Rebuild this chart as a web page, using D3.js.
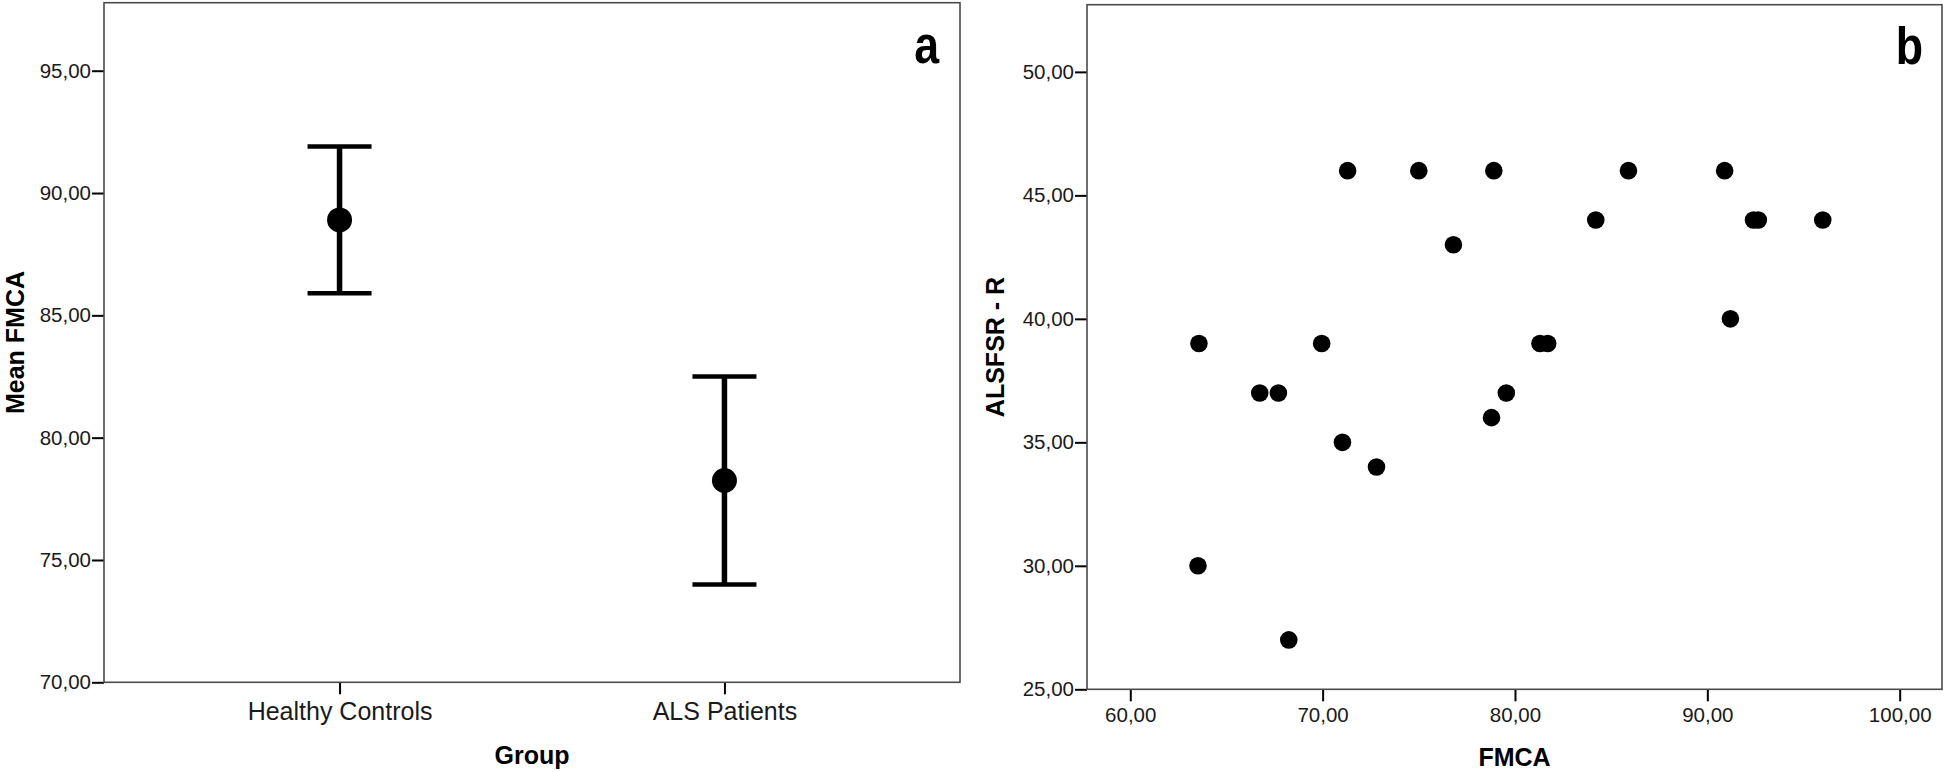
<!DOCTYPE html>
<html>
<head>
<meta charset="utf-8">
<script src="https://cdn.jsdelivr.net/npm/d3@7"></script>
<style>
  html, body { margin: 0; padding: 0; background: #fff; }
  svg { display: block; font-family: "Liberation Sans", Arial, sans-serif; }
</style>
</head>
<body>
<svg id="chart" width="1946" height="772"></svg>
<script>
// ---- Panel a data: mean FMCA with error bars ----
const groups = ["Healthy Controls", "ALS Patients"];
const groupMeans = [88.9, 78.25];
const groupLower = [85.9, 74.0];
const groupUpper = [91.9, 82.5];
const ticksA = [70, 75, 80, 85, 90, 95];

// ---- Panel b data: FMCA vs ALSFRS-R ----
const fmca = [71.3, 75.0, 78.9, 85.9, 90.9,
              84.2, 92.4, 92.65, 96.0,
              76.8, 91.2,
              63.57, 69.95, 81.3, 81.7,
              66.73, 67.7, 79.55,
              78.78, 71.03, 72.8, 63.52, 68.24];
const alsfrs = [46, 46, 46, 46, 46,
                44, 44, 44, 44,
                43, 40,
                39, 39, 39, 39,
                37, 37, 37,
                36, 35, 34, 30, 27];
const ticksBx = [60, 70, 80, 90, 100];
const ticksBy = [25, 30, 35, 40, 45, 50];

const fmt = d => d3.format(".2f")(d).replace(".", ",");
const svg = d3.select("#chart");

function styleAxis(g, fontSize) {
  g.select(".domain").remove();
  g.selectAll(".tick line").attr("stroke", "#000").attr("stroke-width", 2);
  g.selectAll(".tick text").attr("fill", "#1a1a1a").style("font-size", fontSize + "px")
    .style("font-family", '"Liberation Sans", Arial, sans-serif');
}

// ================= Panel a =================
const A = { left: 104, right: 960, top: 2.7, bottom: 682.3 };
const xA = d3.scalePoint().domain(groups).range([A.left, A.right]).padding(0.612);
const yA = d3.scaleLinear().domain([70, 97.78]).range([A.bottom, A.top]);

const gA = svg.append("g");
gA.append("g").attr("transform", `translate(${A.left},0)`)
  .call(d3.axisLeft(yA).tickValues(ticksA).tickFormat(fmt).tickSize(12).tickPadding(1))
  .call(g => styleAxis(g, 20.5));
gA.append("g").attr("transform", `translate(0,${A.bottom})`)
  .call(d3.axisBottom(xA).tickSize(12).tickPadding(8))
  .call(g => styleAxis(g, 25));

gA.append("rect").attr("x", A.left).attr("y", A.top)
  .attr("width", A.right - A.left).attr("height", A.bottom - A.top)
  .attr("fill", "none").attr("stroke", "#4a4a4a").attr("stroke-width", 1.6);

const capW = 32;
groups.forEach((gname, i) => {
  const cx = xA(gname);
  gA.append("line").attr("x1", cx).attr("x2", cx)
    .attr("y1", yA(groupUpper[i])).attr("y2", yA(groupLower[i]))
    .attr("stroke", "#000").attr("stroke-width", 5.5);
  [groupUpper[i], groupLower[i]].forEach(v => {
    gA.append("line").attr("x1", cx - capW).attr("x2", cx + capW)
      .attr("y1", yA(v)).attr("y2", yA(v))
      .attr("stroke", "#000").attr("stroke-width", 4.5);
  });
  gA.append("circle").attr("cx", cx).attr("cy", yA(groupMeans[i])).attr("r", 12.5).attr("fill", "#000");
});

gA.append("text").attr("x", (A.left + A.right) / 2).attr("y", 764)
  .attr("text-anchor", "middle").style("font-size", "25px").style("font-weight", "bold")
  .text("Group");
gA.append("text").attr("transform", `translate(24,${(A.top + A.bottom) / 2}) rotate(-90)`)
  .attr("text-anchor", "middle").style("font-size", "25px").style("font-weight", "bold")
  .text("Mean FMCA");
gA.append("text").attr("x", 939).attr("y", 63).attr("text-anchor", "end")
  .style("font-size", "52px").style("font-weight", "bold")
  .attr("transform", "translate(939,0) scale(0.86,1) translate(-939,0)")
  .text("a");

// ================= Panel b =================
const B = { left: 1087, right: 1942, top: 4.7, bottom: 689.3 };
const xB = d3.scaleLinear().domain([57.75, 102.2]).range([B.left, B.right]);
const yB = d3.scaleLinear().domain([25, 52.72]).range([B.bottom, B.top]);

const gB = svg.append("g");
gB.append("g").attr("transform", `translate(${B.left},0)`)
  .call(d3.axisLeft(yB).tickValues(ticksBy).tickFormat(fmt).tickSize(12).tickPadding(1))
  .call(g => styleAxis(g, 20.5));
gB.append("g").attr("transform", `translate(0,${B.bottom})`)
  .call(d3.axisBottom(xB).tickValues(ticksBx).tickFormat(fmt).tickSize(12).tickPadding(6))
  .call(g => styleAxis(g, 20.5));

gB.append("rect").attr("x", B.left).attr("y", B.top)
  .attr("width", B.right - B.left).attr("height", B.bottom - B.top)
  .attr("fill", "none").attr("stroke", "#4a4a4a").attr("stroke-width", 1.6);

gB.selectAll("circle.pt").data(fmca.map((v, i) => [v, alsfrs[i]])).enter()
  .append("circle").attr("class", "pt")
  .attr("cx", d => xB(d[0])).attr("cy", d => yB(d[1])).attr("r", 8.8).attr("fill", "#000");

gB.append("text").attr("x", (B.left + B.right) / 2).attr("y", 766)
  .attr("text-anchor", "middle").style("font-size", "25px").style("font-weight", "bold")
  .text("FMCA");
gB.append("text").attr("transform", `translate(1004,${(B.top + B.bottom) / 2}) rotate(-90)`)
  .attr("text-anchor", "middle").style("font-size", "25px").style("font-weight", "bold")
  .text("ALSFSR - R");
gB.append("text").attr("x", 1923).attr("y", 64).attr("text-anchor", "end")
  .style("font-size", "52px").style("font-weight", "bold")
  .attr("transform", "translate(1923,0) scale(0.86,1) translate(-1923,0)")
  .text("b");
</script>
</body>
</html>
